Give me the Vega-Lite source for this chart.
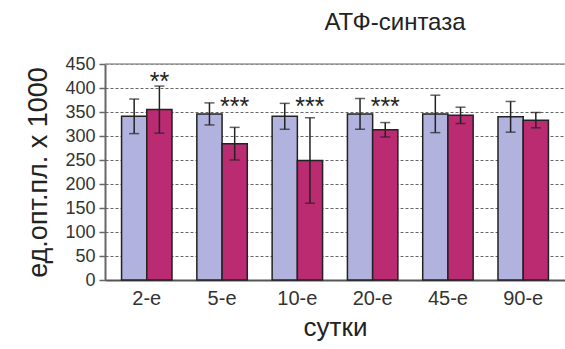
{
  "$schema": "https://vega.github.io/schema/vega-lite/v6.json",
  "width": 460,
  "height": 216,
  "autosize": "none",
  "padding": {"left": 105, "top": 64, "right": 0, "bottom": 69},
  "background": "white",
  "config": {
    "font": "Liberation Sans",
    "view": {"stroke": null},
    "axis": {"labelFont": "Liberation Sans", "titleFont": "Liberation Sans"}
  },
  "title": {"text": "АТФ-синтаза", "fontSize": 24, "fontWeight": "normal", "color": "#222", "anchor": "middle", "dx": 60, "offset": 20, "font": "Liberation Sans"},
  "datasets": {
    "bars": [
      {"day": "2-е", "grp": "a", "mean": 341, "sd": 36},
      {"day": "2-е", "grp": "b", "mean": 355, "sd": 49},
      {"day": "5-е", "grp": "a", "mean": 346, "sd": 23},
      {"day": "5-е", "grp": "b", "mean": 284, "sd": 34},
      {"day": "10-е", "grp": "a", "mean": 341, "sd": 27},
      {"day": "10-е", "grp": "b", "mean": 249, "sd": 89},
      {"day": "20-е", "grp": "a", "mean": 346, "sd": 32},
      {"day": "20-е", "grp": "b", "mean": 313, "sd": 15},
      {"day": "45-е", "grp": "a", "mean": 346, "sd": 39},
      {"day": "45-е", "grp": "b", "mean": 343, "sd": 17},
      {"day": "90-е", "grp": "a", "mean": 340, "sd": 32},
      {"day": "90-е", "grp": "b", "mean": 333, "sd": 16}
    ],
    "stars": [
      {"day": "2-е", "grp": "b", "label": "**", "pos": 422},
      {"day": "5-е", "grp": "b", "label": "***", "pos": 370},
      {"day": "10-е", "grp": "b", "label": "***", "pos": 370},
      {"day": "20-е", "grp": "b", "label": "***", "pos": 370}
    ]
  },
  "resolve": {"scale": {"y": "shared"}, "axis": {"y": "independent"}},
  "encoding": {
    "x": {
      "field": "day", "type": "nominal", "sort": ["2-е", "5-е", "10-е", "20-е", "45-е", "90-е"],
      "scale": {"paddingInner": 0.33, "paddingOuter": 0.22},
      "axis": {"title": "сутки", "titleFontSize": 26, "titleFontWeight": "normal", "titleColor": "#222", "titlePadding": 6,
               "labelAngle": 0, "labelFontSize": 20, "labelColor": "#333", "labelPadding": 8, "ticks": false, "grid": false,
               "domainColor": "#555", "domainWidth": 2}
    },
    "xOffset": {"field": "grp", "type": "nominal", "scale": {"paddingInner": 0, "paddingOuter": 0}}
  },
  "layer": [
    {
      "data": {"name": "bars"},
      "mark": {"type": "bar", "stroke": "#222", "strokeWidth": 1.5},
      "encoding": {
        "y": {"field": "mean", "type": "quantitative",
              "scale": {"domain": [0, 450], "nice": false},
              "axis": {"title": "ед.опт.пл. х 1000", "values": [0, 50, 100, 150, 200, 250, 300, 350, 400, 450],
                       "labelOverlap": false, "labelFontSize": 18, "labelColor": "#333", "labelPadding": 4,
                       "grid": true, "gridColor": "#666", "gridDash": [3, 2], "gridWidth": 1,
                       "domainColor": "#666", "domainWidth": 2, "tickColor": "#666", "tickSize": 6, "tickWidth": 1.5,
                       "titleFontSize": 27, "titleFontWeight": "normal", "titleColor": "#222", "titlePadding": 12}},
        "color": {"field": "grp", "type": "nominal", "scale": {"domain": ["a", "b"], "range": ["#b1b3de", "#bb2b72"]}, "legend": null}
      }
    },
    {
      "data": {"values": [{"v": 450}]},
      "mark": {"type": "rule", "color": "#999", "strokeWidth": 1.5},
      "encoding": {"y": {"field": "v", "type": "quantitative", "axis": null}, "x": null, "xOffset": null}
    },
    {
      "data": {"name": "bars"},
      "transform": [{"calculate": "datum.mean - datum.sd", "as": "lo"}, {"calculate": "datum.mean + datum.sd", "as": "hi"}],
      "mark": {"type": "rule", "color": "#222", "strokeWidth": 1.5},
      "encoding": {"y": {"field": "lo", "type": "quantitative", "axis": null}, "y2": {"field": "hi"}}
    },
    {
      "data": {"name": "bars"},
      "transform": [{"calculate": "datum.mean - datum.sd", "as": "lo"}],
      "mark": {"type": "tick", "color": "#222", "size": 10, "thickness": 1.5, "orient": "horizontal"},
      "encoding": {"y": {"field": "lo", "type": "quantitative", "axis": null}}
    },
    {
      "data": {"name": "bars"},
      "transform": [{"calculate": "datum.mean + datum.sd", "as": "hi"}],
      "mark": {"type": "tick", "color": "#222", "size": 10, "thickness": 1.5, "orient": "horizontal"},
      "encoding": {"y": {"field": "hi", "type": "quantitative", "axis": null}}
    },
    {
      "data": {"name": "stars"},
      "mark": {"type": "text", "fontSize": 25, "color": "#222", "baseline": "middle", "align": "center", "dy": 5},
      "encoding": {"y": {"field": "pos", "type": "quantitative", "axis": null}, "text": {"field": "label"}}
    }
  ]
}
